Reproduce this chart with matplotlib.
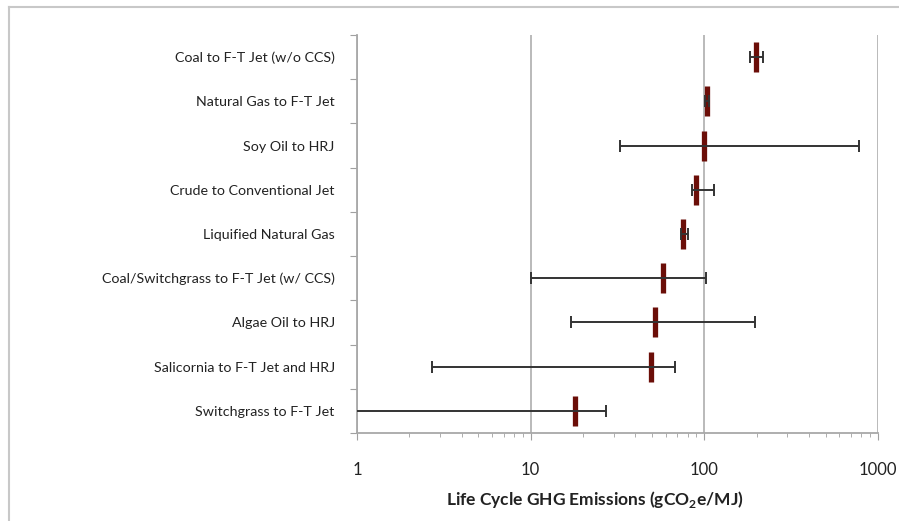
import matplotlib
matplotlib.use("Agg")
import matplotlib.pyplot as plt
from matplotlib.lines import Line2D
import numpy as np

plt.rcParams["font.family"] = ["Lato", "DejaVu Sans"]
plt.rcParams["mathtext.fontset"] = "custom"
plt.rcParams["mathtext.rm"] = "Lato"
plt.rcParams["mathtext.bf"] = "Lato:bold"

# pathways, top to bottom
pathways = [
    "Coal to F-T Jet (w/o CCS)",
    "Natural Gas to F-T Jet",
    "Soy Oil to HRJ",
    "Crude to Conventional Jet",
    "Liquified Natural Gas",
    "Coal/Switchgrass to F-T Jet (w/ CCS)",
    "Algae Oil to HRJ",
    "Salicornia to F-T Jet and HRJ",
    "Switchgrass to F-T Jet",
]
baseline = [198, 103, 100, 89, 75, 58, 52, 49, 18]
low = [183, 101, 32.6, 85, 73, 10, 17, 2.7, 0.9]
high = [218, 107, 778, 114, 81, 102, 195, 68, 27]

x_ticks = [1, 10, 100, 1000]

fig = plt.figure(figsize=(8.99, 5.21), dpi=100)
ax = fig.add_axes([357 / 899, 1 - 433 / 521, (878 - 357) / 899, (433 - 35) / 521])

# outer chart frame
fig.add_artist(Line2D([8.5 / 899, 1], [1 - 6.5 / 521] * 2, color="#c8c8c8", lw=1.5))
fig.add_artist(Line2D([8.5 / 899] * 2, [0, 1 - 6.5 / 521], color="#c8c8c8", lw=1.5))

y = np.arange(len(pathways))
base = np.array(baseline)
err = [base - np.array(low), np.array(high) - base]

ax.plot(base, y, linestyle="none", marker="|", ms=21, mew=3.8,
        color="#6b0e08", zorder=3)
ax.errorbar(base, y, xerr=err, fmt="none", ecolor="#333333",
            elinewidth=1.4, capsize=4, capthick=1.4, zorder=4)

ax.set_xscale("log")
ax.set_xlim(1, 1000)
ax.set_ylim(len(pathways) - 0.5, -0.5)
ax.set_xticks(x_ticks)
ax.set_xticklabels([str(t) for t in x_ticks])
ax.grid(axis="x", which="major", color="#b4b4b4", lw=1.3)
ax.set_axisbelow(True)

ax.set_yticks(np.arange(-0.5, len(pathways), 1))
ax.set_yticklabels([])
ax.set_yticks(y, minor=True)
ax.set_yticklabels(pathways, minor=True)
ax.tick_params(axis="y", which="major", length=5, color="#a0a0a0")
ax.tick_params(axis="y", which="minor", length=0, pad=16, labelsize=10.3,
               labelcolor="#222222")
ax.tick_params(axis="x", which="major", length=5, color="#a0a0a0", pad=16,
               labelsize=12, labelcolor="#222222")
ax.tick_params(axis="x", which="minor", length=3, color="#a0a0a0")

for s in ["top", "right"]:
    ax.spines[s].set_visible(False)
for s in ["left", "bottom"]:
    ax.spines[s].set_color("#a8a8a8")
    ax.spines[s].set_linewidth(1.3)

ax.set_xlabel(r"Life Cycle GHG Emissions (gCO$_\mathbf{2}$e/MJ)",
              fontsize=12.5, fontweight="bold", color="#222222")
ax.xaxis.set_label_coords((595 - 357) / 521, -(489 - 433) / 398)

fig.savefig("out.png", dpi=100)
